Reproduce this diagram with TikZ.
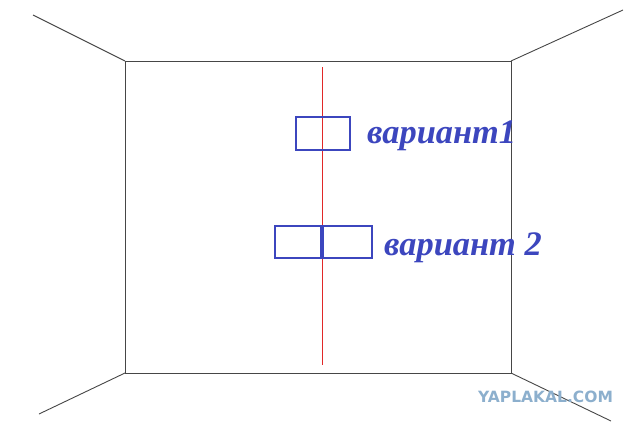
\documentclass[tikz,border=0pt]{standalone}
\usepackage{fontspec}
\setmainfont{Liberation Serif}
\newfontfamily\wmfont{DejaVu Sans}
\definecolor{wallgray}{RGB}{70,70,70}
\definecolor{markblue}{RGB}{60,70,190}
\definecolor{axisred}{RGB}{225,40,40}
\definecolor{wmblue}{RGB}{140,175,205}
\tikzset{
  wall/.style={draw=wallgray, line width=0.9pt},
  socket/.style={draw=markblue, line width=1.8pt},
  lbl/.style={text=markblue, font=\fontsize{34.4}{34.4}\selectfont\bfseries\itshape, anchor=base west, inner sep=0pt},
}
\begin{document}
\begin{tikzpicture}[x=1pt,y=-1pt]
\useasboundingbox (0,0) rectangle (640,426);
% back wall corners
\coordinate (tl) at (125,61);
\coordinate (tr) at (511,61);
\coordinate (br) at (511,373);
\coordinate (bl) at (125,373);
\coordinate (otl) at (33,15);
\coordinate (otr) at (623,10);
\coordinate (obl) at (39,414);
\coordinate (obr) at (611,421);
\draw[wall] (tl) -- (tr) -- (br) -- (bl) -- cycle;
\draw[wall] (otl) -- (tl);
\draw[wall] (otr) -- (tr);
\draw[wall] (obl) -- (bl);
\draw[wall] (obr) -- (br);
% red axis
\coordinate (rtop) at (322.5,67);
\coordinate (rbot) at (322.5,365);
\draw[draw=axisred, line width=1.1pt] (rtop) -- (rbot);
% variant 1
\draw[socket] (296,117) rectangle (350,150);
\node[lbl] (v1) at (367,143) {вариант1};
% variant 2
\draw[socket] (275,226) rectangle (321,258);
\draw[socket] (323,226) rectangle (372,258);
\node[lbl] (v2) at (384,255) {вариант 2};
% watermark
\node[text=wmblue, font=\wmfont\bfseries\fontsize{15.5}{15.5}\selectfont, anchor=base west, inner sep=0pt] (wm) at (478,402) {YAPLAKAL.COM};
\end{tikzpicture}
\end{document}
